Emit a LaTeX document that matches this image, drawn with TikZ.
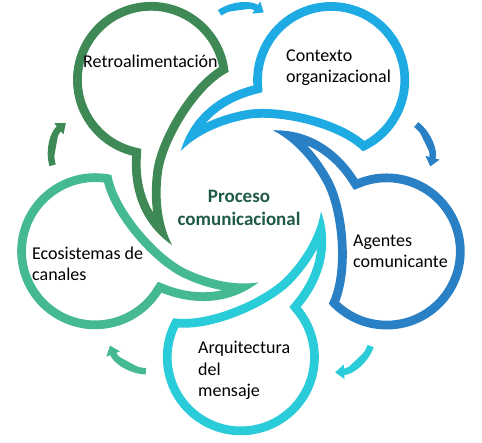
\documentclass[tikz,border=0pt]{standalone}
\usepackage{fontspec}
\setmainfont{Carlito}
\usetikzlibrary{arrows.meta,calc}
\definecolor{cGreen}{RGB}{62,137,85}
\definecolor{cLight}{RGB}{30,171,227}
\definecolor{cDark}{RGB}{41,128,197}
\definecolor{cCyan}{RGB}{41,204,216}
\definecolor{cTeal}{RGB}{69,185,148}
\definecolor{cText}{RGB}{31,90,72}
\tikzset{
  petalshape/.style={insert path={(-12.4,132.2) arc[start angle=6,end angle=256,radius=78]
      .. controls (-111,16) and (-101,-19) .. (-69,-41)
      .. controls (-78,-24) and (-83,2) .. (-79,32)
      .. controls (-75,62) and (-44,116) .. (-12.4,132.2) -- cycle}},
  petalline/.style={line width=17.5pt, line join=miter},
  arw/.style={line width=6.5pt, -{Triangle[width=14pt,length=9pt]}},
  lbl/.style={font=\fontsize{18}{21.5}\selectfont, inner sep=0pt, align=left, anchor=base west},
  ctr/.style={font=\fontsize{19}{23}\selectfont\bfseries, text=cText, inner sep=0pt, align=center, anchor=base}
}
\begin{document}
\begin{tikzpicture}[x=1pt,y=1pt]
\useasboundingbox (-241,-239) rectangle (241,204);
\foreach \k/\col in {0/cGreen,1/cLight,2/cDark,3/cCyan,4/cTeal}{
  \begin{scope}[rotate=-72*\k]
    \begin{scope}
      \clip[petalshape];
      \fill[white, petalshape];
      \draw[petalline, draw=\col, petalshape];
    \end{scope}
  \end{scope}
}
\foreach \k/\col in {0/cLight,1/cDark,2/cCyan,3/cTeal,4/cGreen}{
  \begin{scope}[rotate=-72*\k]
    \coordinate (a\k) at ($(1,158)+(124:40)$);
    \draw[arw, draw=\col, fill=\col] (a\k) arc[start angle=124, end angle=57, radius=40];
  \end{scope}
}
\node[lbl] (retro) at (-158,136) {Retroalimentación};
\node[lbl] (contexto) at (45,121) {Contexto\\organizacional};
\node[lbl] (agentes) at (112,-64) {Agentes\\comunicante};
\node[lbl] (arq) at (-43,-193) {Arquitectura\\del\\mensaje};
\node[lbl] (eco) at (-209,-77) {Ecosistemas de\\canales};
\node[ctr] (proceso) at (-2,-22) {Proceso\\comunicacional};
\end{tikzpicture}
\end{document}
